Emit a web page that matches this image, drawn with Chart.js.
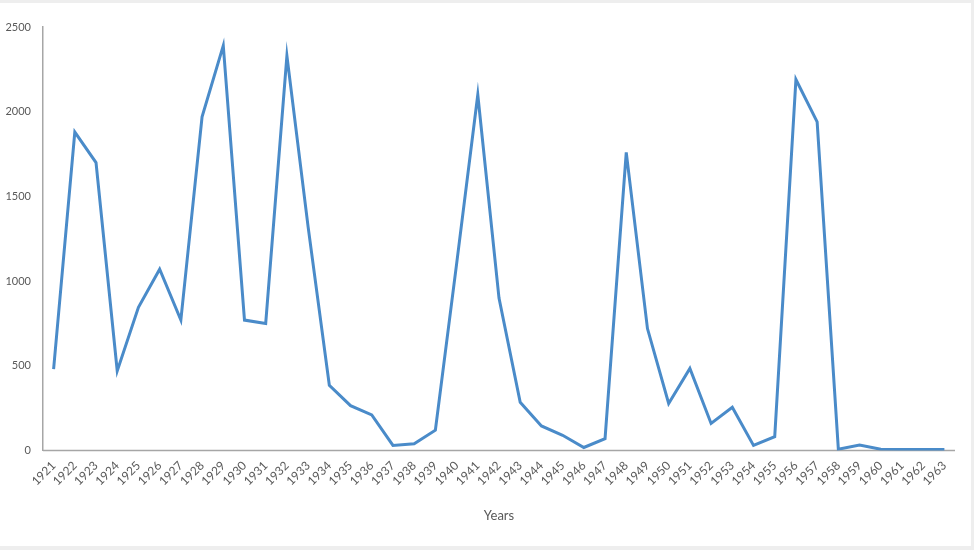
<!DOCTYPE html>
<html>
<head>
<meta charset="utf-8">
<script src="https://cdn.jsdelivr.net/npm/chart.js@4/dist/chart.umd.min.js"></script>
<style>
  html, body { margin: 0; padding: 0; background: #eeeeee; }
  .panel { position: absolute; left: 0; top: 3px; width: 971px; height: 543px; background: #fff; }
</style>
</head>
<body>
<div class="panel"><canvas id="chart"></canvas></div>
<script>
// Data
const years = [];
for (let y = 1921; y <= 1963; y++) years.push(String(y));

const values = [
  480, 1880, 1700, 470, 845, 1070, 770, 1970, 2390, 770,
  750, 2330, 1320, 385, 265, 210, 30, 40, 120, 1100,
  2100, 900, 285, 145, 90, 18, 70, 1760, 720, 278,
  485, 160, 255, 30, 82, 2190, 1940, 8, 32, 8,
  6, 6, 6
];

const yTicks = [0, 500, 1000, 1500, 2000, 2500];

const textColor = '#595959';
const axisColor = '#a6a6a6';

// x axis line: from the y axis to half a category past the last year
const baseLine = {
    id: 'baseLine',
    beforeDatasetsDraw(chart) {
        const { ctx, chartArea } = chart;
        const x = chart.scales.x;
        const n = years.length;
        const last = x.getPixelForValue(n - 1);
        const step = last - x.getPixelForValue(n - 2);
        ctx.save();
        ctx.strokeStyle = axisColor;
        ctx.lineWidth = 1.5;
        ctx.beginPath();
        ctx.moveTo(chartArea.left, chartArea.bottom);
        ctx.lineTo(last + step / 2, chartArea.bottom);
        ctx.stroke();
        ctx.restore();
    }
};

const ctx = document.getElementById('chart').getContext('2d');
new Chart(ctx, {
    type: 'line',
    data: {
        labels: years,
        datasets: [{
            data: values,
            borderColor: '#4a8bc9',
            borderWidth: 3,
            pointRadius: 0,
            tension: 0,
            fill: false
        }]
    },
    options: {
        responsive: true,
        maintainAspectRatio: false,
        animation: false,
        layout: {
            autoPadding: false, // rotated labels may hang left of the axis, as in the original
            padding: { left: 6, right: 16, top: 24, bottom: 18 }
        },
        plugins: {
            legend: { display: false },
            tooltip: { enabled: false }
        },
        scales: {
            x: {
                offset: true,
                grid: { display: false, drawTicks: false },
                border: { display: false },
                afterFit: scale => { scale.paddingLeft = 0; scale.paddingRight = 0; },
                ticks: {
                    color: textColor,
                    font: { family: 'Lato', size: 12 },
                    autoSkip: false,
                    maxRotation: 45,
                    minRotation: 45,
                    padding: 8
                },
                title: {
                    display: true,
                    text: 'Years',
                    color: textColor,
                    font: { family: 'Lato', size: 13 },
                    padding: { top: 12 }
                }
            },
            y: {
                min: 0,
                max: 2500,
                grid: { display: false, drawTicks: false },
                border: { display: true, color: axisColor, width: 1.5 },
                afterBuildTicks: axis => {
                    axis.ticks = yTicks.map(v => ({ value: v }));
                },
                afterFit: axis => { axis.width = 37; },
                ticks: {
                    color: textColor,
                    font: { family: 'Lato', size: 11 },
                    padding: 12,
                    callback: value => String(value)
                }
            }
        }
    },
    plugins: [baseLine]
});
</script>
</body>
</html>
